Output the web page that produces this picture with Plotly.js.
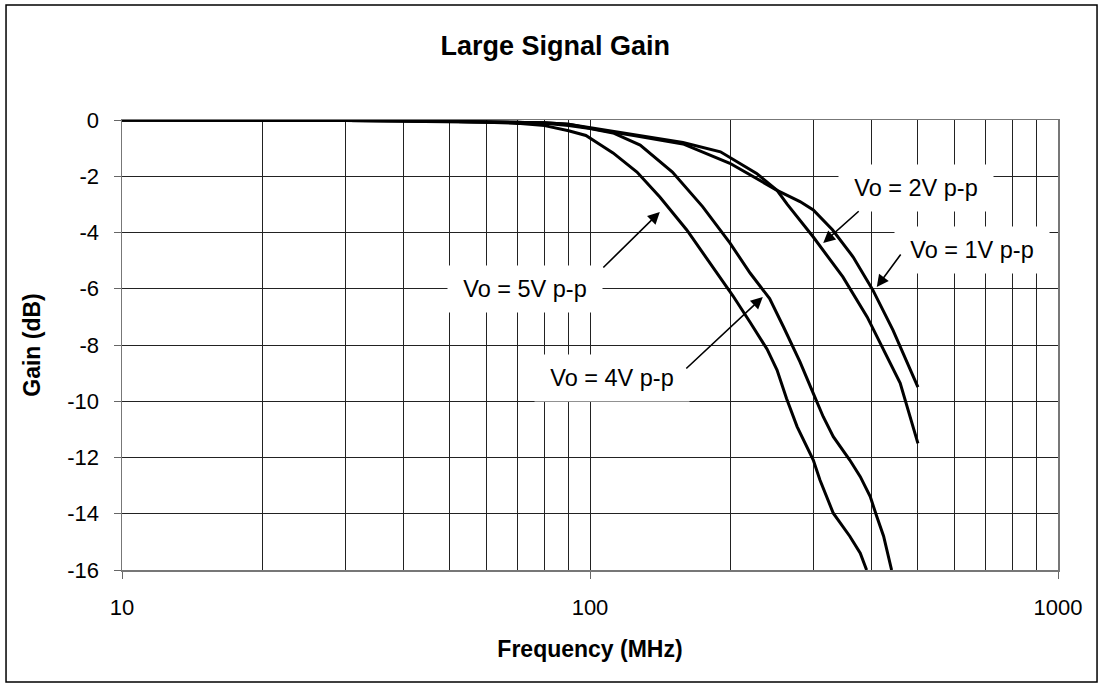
<!DOCTYPE html>
<html>
<head>
<meta charset="utf-8">
<script src="https://cdn.plot.ly/plotly-3.0.1.min.js"></script>
<style>
html,body{margin:0;padding:0;background:#fff;}
#chart{width:1104px;height:688px;}
</style>
</head>
<body>
<div id="chart"></div>
<script>
// ---- Data ----
const freq1V = [10,20,30,40,50,60,70,80,90,105,124,158,199,227,251,281,300,330,365,402,444,502];
const gain1V = [0,0,-0.02,-0.03,-0.05,-0.06,-0.08,-0.1,-0.15,-0.36,-0.55,-0.85,-1.54,-2.07,-2.5,-2.9,-3.2,-3.91,-4.87,-6.04,-7.47,-9.5];

const freq2V = [10,20,30,40,50,60,70,80,90,105,124,158,190,227,251,264,300,347,391,431,460,502];
const gain2V = [0,0,-0.02,-0.03,-0.05,-0.06,-0.08,-0.1,-0.15,-0.33,-0.5,-0.8,-1.13,-1.9,-2.5,-3.0,-4.16,-5.58,-7.0,-8.43,-9.35,-11.5];

const freq4V = [10,20,30,40,50,60,70,80,90,100,112,128,150,174,199,220,242,259,281,300,315,331,359,378,397,410,424,441];
const gain4V = [0,0,-0.02,-0.03,-0.05,-0.06,-0.08,-0.12,-0.2,-0.3,-0.46,-0.89,-1.85,-3.08,-4.37,-5.45,-6.35,-7.35,-8.6,-9.72,-10.55,-11.26,-12.09,-12.68,-13.39,-14.1,-14.8,-16];

const freq5V = [10,20,30,40,50,60,70,80,90,98,105,112,126,141,161,183,202,220,239,251,263,277,290,300,310,331,359,378,390];
const gain5V = [0,0,-0.02,-0.04,-0.06,-0.08,-0.12,-0.2,-0.38,-0.55,-0.87,-1.17,-1.85,-2.74,-3.91,-5.23,-6.25,-7.2,-8.15,-8.89,-9.9,-10.9,-11.6,-12.09,-12.8,-13.98,-14.8,-15.4,-16];

const xTickVals = [10,100,1000];
const xTickText = ['10','100','1000'];
const xMinorVals = [20,30,40,50,60,70,80,90,200,300,400,500,600,700,800,900];
const yTickVals = [0,-2,-4,-6,-8,-10,-12,-14,-16];
const yTickText = ['0','-2','-4','-6','-8','-10','-12','-14','-16'];

const labelTexts = ['Vo = 5V p-p','Vo = 4V p-p','Vo = 2V p-p','Vo = 1V p-p'];
const arrowFreq = [141,234,315,410];
const arrowGain = [-3.27,-6.29,-4.37,-5.94];

// ---- Styling / layout ----
const FONT = 'Arial, "Liberation Sans", Helvetica, sans-serif';
const lineStyle = {color:'#000', width:3};

const traces = [
  {x:freq1V, y:gain1V, name:'Vo = 1V p-p'},
  {x:freq2V, y:gain2V, name:'Vo = 2V p-p'},
  {x:freq4V, y:gain4V, name:'Vo = 4V p-p'},
  {x:freq5V, y:gain5V, name:'Vo = 5V p-p'}
].map(t => Object.assign(t, {type:'scatter', mode:'lines', line:lineStyle, hoverinfo:'x+y', cliponaxis:true}));

// label boxes: centre positions in paper coords and arrow tail offsets (px)
const boxPos = [[0.4305,0.6244],[0.5235,0.4267],[0.8483,0.8489],[0.9081,0.7111]];
const tailOff = [[-58,57],[-78,73],[37,-33],[25,-34]];

const annotations = [];
labelTexts.forEach((txt,i)=>{
  annotations.push({
    xref:'paper', yref:'paper', x:boxPos[i][0], y:boxPos[i][1],
    text:txt, showarrow:false, bgcolor:'#fff', width:152, height:44,
    font:{family:FONT, size:23.5, color:'#000'}, xanchor:'center', yanchor:'middle'
  });
  annotations.push({
    xref:'x', yref:'y', x:Math.log10(arrowFreq[i]), y:arrowGain[i],
    text:'', showarrow:true, arrowhead:2, arrowsize:1.5, arrowwidth:1.6, arrowcolor:'#000',
    ax:tailOff[i][0], ay:tailOff[i][1], standoff:0, startstandoff:0
  });
});

const layout = {
  width:1104, height:688,
  margin:{l:122, r:46, t:120, b:118},
  paper_bgcolor:'#fff', plot_bgcolor:'#fff',
  showlegend:false,
  font:{family:FONT, color:'#000'},
  title:{text:'<b>Large Signal Gain</b>', font:{family:FONT, size:27, color:'#000'},
         x:0.503, xanchor:'center', y:1-46/688, yanchor:'middle', yref:'container'},
  xaxis:{
    type:'log', range:[1,3], tickmode:'array', tickvals:xTickVals, ticktext:xTickText,
    ticks:'outside', ticklen:7, tickcolor:'#666', tickwidth:1,
    tickfont:{family:FONT, size:22, color:'#000'}, ticklabelstandoff:10,
    showgrid:true, gridcolor:'#222', gridwidth:1,
    minor:{tickmode:'array', tickvals:xMinorVals, showgrid:true, gridcolor:'#222', gridwidth:1, ticks:''},
    showline:true, mirror:true, linecolor:'#777', linewidth:1.5, zeroline:false,
    title:{text:'<b>Frequency (MHz)</b>', font:{family:FONT, size:23, color:'#000'}, standoff:22}
  },
  yaxis:{
    range:[-16,0], tickmode:'array', tickvals:yTickVals, ticktext:yTickText,
    ticks:'outside', ticklen:7, tickcolor:'#666', tickwidth:1,
    tickfont:{family:FONT, size:22, color:'#000'}, ticklabelstandoff:10,
    showgrid:true, gridcolor:'#222', gridwidth:1,
    showline:true, mirror:true, linecolor:'#777', linewidth:1.5, zeroline:false,
    title:{text:'<b>Gain (dB)</b>', font:{family:FONT, size:23, color:'#000'}, standoff:20}
  },
  annotations:annotations,
  shapes:[{type:'rect', xref:'paper', yref:'paper', x0:-0.1239, x1:1.0417, y0:-0.2489, y1:1.2556,
           line:{color:'#000', width:1.5}, fillcolor:'rgba(0,0,0,0)', layer:'above'}]
};

Plotly.newPlot('chart', traces, layout, {displayModeBar:false, staticPlot:true});
</script>
</body>
</html>
